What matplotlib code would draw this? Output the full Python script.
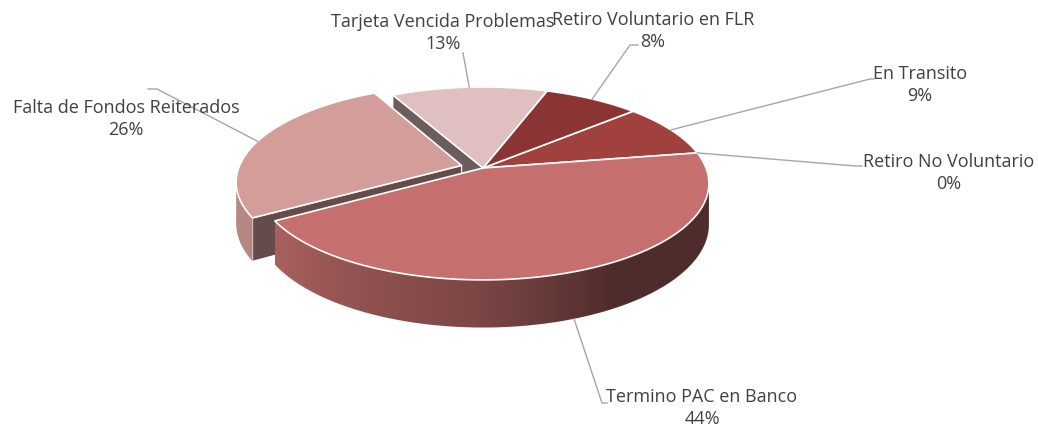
import numpy as np
import matplotlib.pyplot as plt
from matplotlib.colors import to_rgb
from matplotlib.patches import Polygon

# slices counter-clockwise, starting just above the right-hand side of the disk
labels = ["En Transito", "Retiro Voluntario en FLR", "Tarjeta Vencida Problemas",
          "Falta de Fondos Reiterados", "Termino PAC en Banco", "Retiro No Voluntario"]
pct = [9, 8, 13, 26, 44, 0]
explode = [0, 0, 0, 0.1, 0, 0]
colors = ["#A0413E", "#8A3434", "#E0BFC0", "#D39E9A", "#C5706E", "#C5706E"]

# where the texts and leader elbows go (pixels)
label_xy = [(920, 85), (653, 31), (443, 33), (126, 119), (702, 408), (949, 173)]
elbows = [[(870, 79), (874, 79)], [(630, 45), (638, 45)], [(463, 53)],
          [(157, 89), (148, 89)], [(602, 403), (607, 403)], [(855, 166), (862, 166)]]

start = 9.5          # degrees, first slice edge
CX, CY = 483, 168    # pie centre on screen
A, B, K, DEPTH = 223, 94, 0.16, 40   # half axes, perspective, thickness


def proj(x, y, z=0.0):
    # disk coords -> screen pixels, a little perspective so the back is smaller
    w = 1 + K * y
    return CX + A * x / w, CY + (DEPTH * z - B * y) / w


def shade(t):
    # wall darkens from the left round to the right
    return np.interp(t, [180, 215, 270, 300, 360], [0.88, 0.85, 0.62, 0.40, 0.40])


fig = plt.figure(figsize=(10.38, 4.29), dpi=100)
ax = fig.add_axes([0, 0, 1, 1])

edges = start + 3.6 * np.concatenate([[0], np.cumsum(pct)])
wedges = []
for i in range(len(pct)):
    t0, t1 = edges[i], edges[i + 1]
    mid = np.radians((t0 + t1) / 2)
    ox, oy = explode[i] * np.cos(mid), explode[i] * np.sin(mid)
    wedges.append((t0, t1, ox, oy, np.sin(mid) + oy))

# sides first, back to front
order = sorted(range(len(pct)), key=lambda i: -wedges[i][4])
lo, hi = 180 + np.degrees(np.arcsin(K)), 360 - np.degrees(np.arcsin(K))
for i in order:
    t0, t1, ox, oy, _ = wedges[i]
    if t1 - t0 <= 0:
        continue
    base = np.array(to_rgb(colors[i]))
    # radial cut faces that look toward us
    for t, nrm in ((t0, t0 - 90), (t1, t1 + 90)):
        if np.sin(np.radians(nrm)) < 0:
            r = np.radians(t)
            pts = [proj(ox, oy, 0), proj(ox + np.cos(r), oy + np.sin(r), 0),
                   proj(ox + np.cos(r), oy + np.sin(r), 1), proj(ox, oy, 1)]
            xs, ys = zip(*pts)
            ax.fill(xs, ys, color=base * 0.48, ec="white", lw=0.8, zorder=2)
    # outer wall, only the visible front part, shaded left to right
    for k360 in (0, 360):
        a0, a1 = max(t0, lo + k360), min(t1, hi + k360)
        if a1 <= a0:
            continue
        ts = np.radians(np.linspace(a0, a1, 300))
        tx, ty = proj(ox + np.cos(ts), oy + np.sin(ts), 0)
        bx, by = proj(ox + np.cos(ts), oy + np.sin(ts), 1)
        poly = np.column_stack([np.concatenate([tx, bx[::-1]]),
                                np.concatenate([ty, by[::-1]])])
        patch = Polygon(poly, closed=True, fc="none", ec="none")
        ax.add_patch(patch)
        x0, x1 = poly[:, 0].min(), poly[:, 0].max()
        cols = np.linspace(x0, x1, 400)
        srt = np.argsort(tx)
        f = np.interp(cols, tx[srt], shade(np.degrees(ts[srt]) % 360))
        img = (base[None, :] * f[:, None])[None, :, :]
        im = ax.imshow(img, extent=(x0, x1, poly[:, 1].max(), poly[:, 1].min()),
                       aspect="auto", interpolation="bilinear", zorder=2)
        im.set_clip_path(patch)

# top faces
for i in range(len(pct)):
    t0, t1, ox, oy, _ = wedges[i]
    if t1 - t0 <= 0:
        continue
    ts = np.radians(np.linspace(t0, t1, 200))
    xs, ys = proj(ox + np.cos(ts), oy + np.sin(ts), 0)
    xs = np.concatenate([[proj(ox, oy)[0]], xs])
    ys = np.concatenate([[proj(ox, oy)[1]], ys])
    ax.fill(xs, ys, color=colors[i], ec="white", lw=1.2, zorder=3, joinstyle="round")

# labels with leader lines
for i in range(len(pct)):
    t0, t1, ox, oy, _ = wedges[i]
    r = np.radians((t0 + t1) / 2)
    z = 1 if np.sin(r) < -K else 0
    anchor = proj(ox + np.cos(r), oy + np.sin(r), z)
    line = [anchor] + elbows[i]
    lx, ly = zip(*line)
    ax.plot(lx, ly, color="#A6A6A6", lw=1, zorder=4)
    ax.text(label_xy[i][0], label_xy[i][1], f"{labels[i]}\n{pct[i]}%",
            ha="center", va="center", fontsize=13, family="Open Sans",
            color="#404040", linespacing=1.22, zorder=5)

ax.set_xlim(0, 1038)
ax.set_ylim(429, 0)
ax.axis("off")
fig.savefig("out.png", dpi=100)
